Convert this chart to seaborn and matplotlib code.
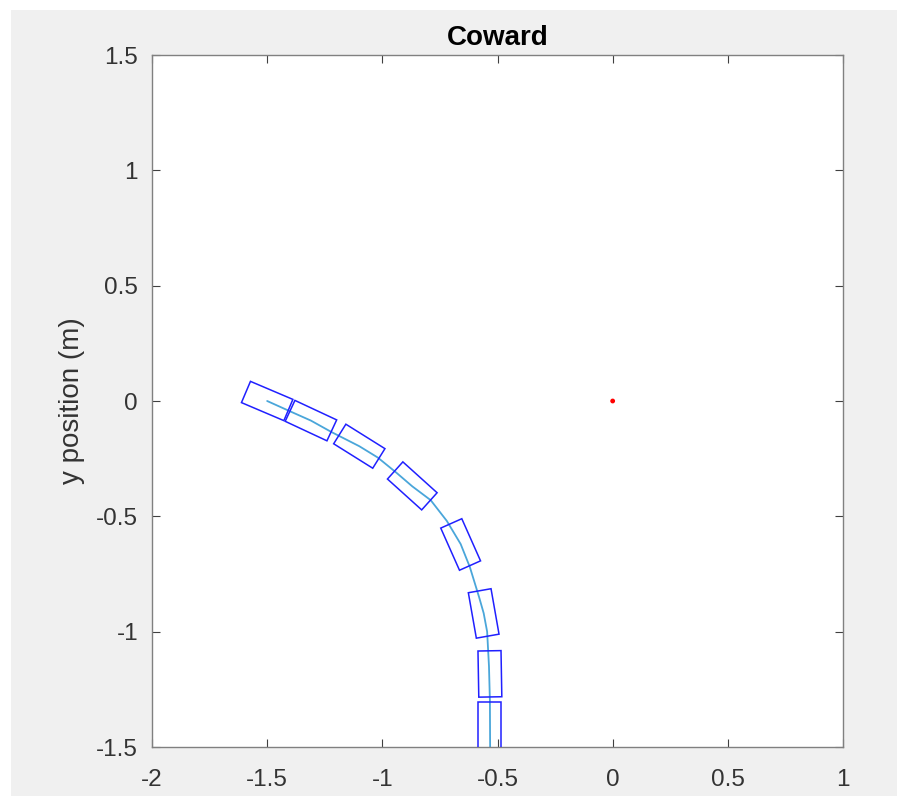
import numpy as np
import pandas as pd
import matplotlib
matplotlib.use("Agg")
import matplotlib.pyplot as plt
from matplotlib.patches import Rectangle
import seaborn as sns

# Robot path (m)
path_x = [-1.50, -1.40, -1.31, -1.22, -1.10, -1.02, -0.94, -0.87, -0.79,
          -0.72, -0.66, -0.62, -0.58, -0.56, -0.545, -0.537, -0.533, -0.532]
path_y = [0.00, -0.045, -0.085, -0.135, -0.196, -0.245, -0.31, -0.37, -0.43,
          -0.52, -0.62, -0.72, -0.85, -0.92, -1.00, -1.15, -1.30, -1.50]

# Robot body snapshots: centre (m) and heading (deg)
pose_x = [-1.50, -1.31, -1.10, -0.87, -0.66, -0.56, -0.533, -0.533]
pose_y = [0.00, -0.085, -0.196, -0.368, -0.622, -0.921, -1.183, -1.405]
pose_heading = [-23, -25, -32, -42, -66, -80, -89, -90]
body_length = 0.2
body_width = 0.1

# Light source position
light_x = [0.0]
light_y = [0.0]

x_ticks = [-2, -1.5, -1, -0.5, 0, 0.5, 1]
x_tick_labels = ["-2", "-1.5", "-1", "-0.5", "0", "0.5", "1"]
y_ticks = [-1.5, -1, -0.5, 0, 0.5, 1, 1.5]
y_tick_labels = ["-1.5", "-1", "-0.5", "0", "0.5", "1", "1.5"]

sns.set_style("white")
plt.rcParams["font.family"] = ["Liberation Sans", "DejaVu Sans"]

W, H = 897, 796
fig = plt.figure(figsize=(W / 100, H / 100), dpi=100, facecolor="white")
# grey figure panel
fig.patches.append(Rectangle((11 / W, 0), 1 - 11 / W, 1 - 10 / H,
                             transform=fig.transFigure, facecolor="#F0F0F0",
                             edgecolor="none", zorder=-10))

ax = fig.add_axes([152 / W, 1 - 747 / H, (843 - 152) / W, (747 - 55) / H])
ax.set_facecolor("white")

path_df = pd.DataFrame({"x": path_x, "y": path_y})
sns.lineplot(data=path_df, x="x", y="y", sort=False, estimator=None,
             color="#4AA6DA", linewidth=1.3, ax=ax)

for cx, cy, hd in zip(pose_x, pose_y, pose_heading):
    ax.add_patch(Rectangle((cx - body_length / 2, cy - body_width / 2),
                           body_length, body_width, angle=hd,
                           rotation_point="center", fill=False,
                           edgecolor="#2020FF", linewidth=1.1, zorder=3))

light_df = pd.DataFrame({"x": light_x, "y": light_y})
sns.scatterplot(data=light_df, x="x", y="y", color="red", s=12,
                edgecolor="none", ax=ax, zorder=4)

ax.set_xlim(-2, 1)
ax.set_ylim(-1.5, 1.5)
ax.set_xticks(x_ticks)
ax.set_xticklabels(x_tick_labels)
ax.set_yticks(y_ticks)
ax.set_yticklabels(y_tick_labels)

txt_col = "#333333"
ax.tick_params(direction="in", length=6, width=0.8, colors="#404040",
               labelcolor=txt_col, labelsize=17.5, top=True, right=True,
               bottom=True, left=True)
ax.tick_params(axis="x", pad=16)
ax.tick_params(axis="y", pad=10)
for sp in ax.spines.values():
    sp.set_visible(True)
    sp.set_color("#808080")
    sp.set_linewidth(1.0)

ax.set_xlabel("")
ax.set_ylabel("y position (m)", fontsize=20, color=txt_col, labelpad=8)
ax.set_title("Coward", fontsize=20, fontweight="bold", color="black", pad=7)

fig.savefig("out.png", dpi=100, facecolor=fig.get_facecolor())
